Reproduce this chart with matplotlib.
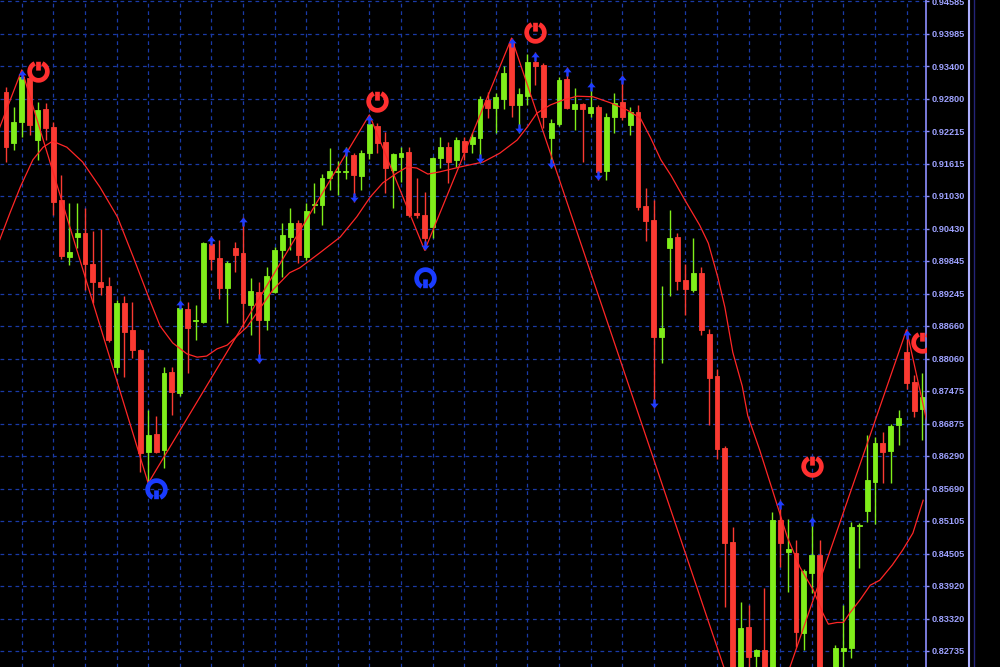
import numpy as np
import matplotlib
matplotlib.use("Agg")
import matplotlib.pyplot as plt
from matplotlib.path import Path
from matplotlib.lines import Line2D

plt.rcParams['font.family'] = ['Liberation Sans', 'DejaVu Sans']

# ---------------------------------
# candle data (one bar per index)
# ---------------------------------
opens = [0.9293, 0.9200, 0.9238, 0.9318, 0.9205, 0.9262, 0.9229, 0.9096, 0.8992, 0.9028,
         0.9035, 0.8979, 0.8946, 0.8939, 0.8791, 0.8908, 0.8859, 0.8822, 0.8636, 0.8669,
         0.8640, 0.8782, 0.8744, 0.8897, 0.8875, 0.8873, 0.9015, 0.8990, 0.8935, 0.9008,
         0.8999, 0.8904, 0.8928, 0.8877, 0.8928, 0.9004, 0.9028, 0.9054, 0.8992, 0.9087,
         0.9087, 0.9136, 0.9147, 0.9147, 0.9178, 0.9140, 0.9181, 0.9231, 0.9202, 0.9150,
         0.9174, 0.9183, 0.9072, 0.9068, 0.9046, 0.9172, 0.9192, 0.9169, 0.9203, 0.9198,
         0.9209, 0.9278, 0.9263, 0.9280, 0.9382, 0.9269, 0.9285, 0.9347, 0.9342, 0.9209,
         0.9234, 0.9316, 0.9262, 0.9271, 0.9254, 0.9265, 0.9149, 0.9247, 0.9275, 0.9233,
         0.9256, 0.9085, 0.9059, 0.8846, 0.9008, 0.9028, 0.8950, 0.8932, 0.8963, 0.8851,
         0.8775, 0.8643, 0.8472, 0.8202, 0.8317, 0.8264, 0.8275, 0.8202, 0.8512, 0.8454,
         0.8452, 0.8306, 0.8415, 0.8448, 0.8229, 0.8202, 0.8273, 0.8278, 0.8501, 0.8528,
         0.8581, 0.8652, 0.8638, 0.8685, 0.8818, 0.8764, 0.8714]
highs = [0.9302, 0.9265, 0.9333, 0.9329, 0.9275, 0.9273, 0.9238, 0.9141, 0.9090, 0.9090,
         0.9081, 0.9039, 0.9043, 0.8955, 0.8913, 0.8921, 0.8910, 0.8824, 0.8713, 0.8702,
         0.8791, 0.8791, 0.8913, 0.8910, 0.8904, 0.9019, 0.9030, 0.9023, 0.8984, 0.9019,
         0.9065, 0.8953, 0.8946, 0.8974, 0.9010, 0.9054, 0.9081, 0.9059, 0.9090, 0.9127,
         0.9143, 0.9191, 0.9167, 0.9192, 0.9181, 0.9187, 0.9251, 0.9236, 0.9220, 0.9181,
         0.9192, 0.9192, 0.9136, 0.9110, 0.9174, 0.9211, 0.9202, 0.9211, 0.9211, 0.9218,
         0.9285, 0.9293, 0.9291, 0.9340, 0.9391, 0.9300, 0.9362, 0.9366, 0.9346, 0.9243,
         0.9320, 0.9338, 0.9300, 0.9273, 0.9311, 0.9269, 0.9254, 0.9291, 0.9324, 0.9265,
         0.9269, 0.9118, 0.9096, 0.8939, 0.9077, 0.9035, 0.8979, 0.9026, 0.8974, 0.8860,
         0.8787, 0.8647, 0.8499, 0.8362, 0.8357, 0.8277, 0.8388, 0.8527, 0.8548, 0.8514,
         0.8475, 0.8423, 0.8517, 0.8475, 0.8238, 0.8284, 0.8357, 0.8508, 0.8506, 0.8667,
         0.8663, 0.8672, 0.8687, 0.8713, 0.8859, 0.8777, 0.8780]
lows = [0.9165, 0.9187, 0.9211, 0.9214, 0.9169, 0.9205, 0.9068, 0.8988, 0.8977, 0.9008,
        0.8932, 0.8908, 0.8922, 0.8837, 0.8780, 0.8773, 0.8807, 0.8600, 0.8579, 0.8634,
        0.8607, 0.8703, 0.8738, 0.8780, 0.8840, 0.8871, 0.8968, 0.8915, 0.8871, 0.8964,
        0.8864, 0.8849, 0.8798, 0.8859, 0.8926, 0.8955, 0.9004, 0.8981, 0.8986, 0.9072,
        0.9050, 0.9114, 0.9105, 0.9134, 0.9092, 0.9114, 0.9170, 0.9181, 0.9108, 0.9081,
        0.9129, 0.9065, 0.9063, 0.9004, 0.9026, 0.9154, 0.9127, 0.9156, 0.9169, 0.9181,
        0.9163, 0.9245, 0.9218, 0.9262, 0.9247, 0.9218, 0.9269, 0.9305, 0.9227, 0.9154,
        0.9231, 0.9262, 0.9223, 0.9165, 0.9247, 0.9132, 0.9132, 0.9218, 0.9242, 0.9214,
        0.9077, 0.9021, 0.8716, 0.8798, 0.8921, 0.8932, 0.8886, 0.8928, 0.8849, 0.8685,
        0.8623, 0.8353, 0.8184, 0.8184, 0.8202, 0.8067, 0.8184, 0.8184, 0.8426, 0.8381,
        0.8280, 0.8275, 0.8379, 0.8184, 0.8184, 0.8184, 0.8202, 0.8260, 0.8424, 0.8508,
        0.8505, 0.8579, 0.8579, 0.8649, 0.8751, 0.8700, 0.8658]
closes = [0.9192, 0.9238, 0.9320, 0.9233, 0.9260, 0.9227, 0.9092, 0.8994, 0.9001, 0.9035,
          0.8979, 0.8946, 0.8937, 0.8840, 0.8908, 0.8855, 0.8822, 0.8634, 0.8667, 0.8636,
          0.8780, 0.8746, 0.8899, 0.8862, 0.8877, 0.9017, 0.8988, 0.8935, 0.8981, 0.8995,
          0.8908, 0.8930, 0.8877, 0.8957, 0.9004, 0.9032, 0.9054, 0.8995, 0.9076, 0.9088,
          0.9136, 0.9149, 0.9149, 0.9149, 0.9141, 0.9181, 0.9234, 0.9200, 0.9154, 0.9180,
          0.9181, 0.9068, 0.9068, 0.9026, 0.9172, 0.9192, 0.9165, 0.9205, 0.9183, 0.9211,
          0.9280, 0.9263, 0.9284, 0.9327, 0.9269, 0.9289, 0.9347, 0.9340, 0.9247, 0.9236,
          0.9315, 0.9263, 0.9271, 0.9262, 0.9265, 0.9147, 0.9247, 0.9273, 0.9247, 0.9256,
          0.9083, 0.9057, 0.8846, 0.8862, 0.9026, 0.8948, 0.8933, 0.8963, 0.8859, 0.8771,
          0.8641, 0.8470, 0.8202, 0.8315, 0.8262, 0.8275, 0.8202, 0.8512, 0.8470, 0.8459,
          0.8308, 0.8419, 0.8448, 0.8202, 0.8202, 0.8278, 0.8278, 0.8499, 0.8503, 0.8585,
          0.8652, 0.8636, 0.8683, 0.8698, 0.8762, 0.8711, 0.8736]

# slow moving average curve
ma_x = [-0.8, 0.5, 1.8, 3.4, 4.7, 5.9, 7.7, 9.7, 11.9, 14.1, 16.1, 18.2, 19.5, 21.1, 22.9,
        24.2, 25.4, 26.7, 28.0, 29.2, 30.5, 32.2, 33.8, 35.9, 37.2, 39.7, 42.3, 44.4, 46.1,
        47.7, 49.5, 50.8, 52.0, 53.4, 54.9, 57.5, 60.4, 62.5, 64.7, 66.0, 67.2, 68.9, 70.5,
        72.3, 74.3, 76.5, 78.6, 80.3, 81.6, 82.9, 84.2, 85.8, 87.8, 88.9, 90.1, 91.0, 92.0,
        93.2, 93.9, 95.4, 98.9, 100.5, 102.2, 103.4, 104.1, 105.2, 106.0, 106.8, 108.1,
        109.4, 110.6, 112.2, 113.5, 114.8, 116.1]
ma_y = [0.9023, 0.9072, 0.9119, 0.9169, 0.9192, 0.9203, 0.9192, 0.9165, 0.9119, 0.9065,
        0.8992, 0.8913, 0.8866, 0.8835, 0.8815, 0.8809, 0.8811, 0.8824, 0.8831, 0.8847,
        0.8864, 0.8899, 0.8932, 0.8963, 0.8972, 0.8999, 0.9028, 0.9065, 0.9101, 0.9127,
        0.9145, 0.9156, 0.9154, 0.9143, 0.9147, 0.9156, 0.9165, 0.9181, 0.9205, 0.9229,
        0.9254, 0.9269, 0.9278, 0.9285, 0.9284, 0.9273, 0.9260, 0.9245, 0.9209, 0.9169,
        0.9140, 0.9099, 0.9050, 0.9017, 0.8955, 0.8900, 0.8818, 0.8756, 0.8702, 0.8640,
        0.8481, 0.8426, 0.8384, 0.8342, 0.8322, 0.8325, 0.8325, 0.8342, 0.8366, 0.8393,
        0.8402, 0.8430, 0.8457, 0.8488, 0.8548]

# zigzag swing points
zz_x = [-2, 2, 18, 46, 53, 64, 95, 114, 118]
zz_y = [0.9183, 0.9333, 0.8579, 0.9251, 0.9004, 0.9391, 0.8067, 0.8859, 0.8598]

# fractal arrows
frac_up_idx = [2, 22, 26, 30, 43, 46, 64, 67, 71, 74, 78, 98, 102, 114]
frac_dn_idx = [32, 44, 53, 60, 65, 69, 75, 82]

# signal symbols
sell_sig_x = [4, 47, 67, 102, 116]
sell_sig_y = [0.9331, 0.9276, 0.9402, 0.8610, 0.8837]
buy_sig_x = [19, 53]
buy_sig_y = [0.8568, 0.8953]

price_ticks = [0.94585, 0.93985, 0.93400, 0.92800, 0.92215, 0.91615, 0.91030, 0.90430,
               0.89845, 0.89245, 0.88660, 0.88060, 0.87475, 0.86875, 0.86290, 0.85690,
               0.85105, 0.84505, 0.83920, 0.83320, 0.82735]
tick_labels = ["0.94585", "0.93985", "0.93400", "0.92800", "0.92215", "0.91615", "0.91030",
               "0.90430", "0.89845", "0.89245", "0.88660", "0.88060", "0.87475", "0.86875",
               "0.86290", "0.85690", "0.85105", "0.84505", "0.83920", "0.83320", "0.82735"]

# colours
bull_c = '#80ee1a'
bear_c = '#fa3a32'
line_c = '#ff2626'
grid_c = '#1a3aa6'
axis_c = '#8e90ff'
arrow_c = '#1e3cff'

o = np.array(opens)
h = np.array(highs)
l = np.array(lows)
c = np.array(closes)
x = np.arange(len(o))

fig = plt.figure(figsize=(10, 6.67), dpi=100, facecolor='black')
ax = fig.add_axes([0, 0, 0.926, 1])
ax.set_facecolor('black')

# grid
for v in price_ticks:
    ax.axhline(v, color=grid_c, lw=0.9, ls=(0, (3, 3)), zorder=0)
for xg in np.arange(2, 117, 4):
    ax.axvline(xg, color=grid_c, lw=0.9, ls=(0, (3, 3)), zorder=0)

# candles
cols = np.where(c >= o, bull_c, bear_c)
ax.vlines(x, l, h, colors=cols, lw=1.0, zorder=2)
ax.bar(x, np.abs(c - o), bottom=np.minimum(o, c), width=0.62, color=cols,
       edgecolor=cols, linewidth=0.6, zorder=2)

# MA + zigzag
ax.plot(ma_x, ma_y, color=line_c, lw=0.9, zorder=3)
ax.plot(zz_x, zz_y, color=line_c, lw=0.9, zorder=3)

# arrows
up_arrow = Path([(0, 0), (-0.6, -0.7), (-0.17, -0.7), (-0.17, -1.3),
                 (0.17, -1.3), (0.17, -0.7), (0.6, -0.7), (0, 0)], closed=True)
dn_arrow = Path([(0, 0), (-0.6, 0.7), (-0.17, 0.7), (-0.17, 1.3),
                 (0.17, 1.3), (0.17, 0.7), (0.6, 0.7), (0, 0)], closed=True)
ax.plot(frac_up_idx, h[frac_up_idx], ls='none', marker=up_arrow, ms=13,
        color=arrow_c, mew=0, zorder=4)
ax.plot(frac_dn_idx, l[frac_dn_idx], ls='none', marker=dn_arrow, ms=13,
        color=arrow_c, mew=0, zorder=4)

# signal symbols (ring + bar)
sell_mark = Path.make_compound_path(Path.arc(115, 425),
                                    Path([(0, 1.1), (0, 0.1)], [Path.MOVETO, Path.LINETO]))
buy_mark = Path.make_compound_path(Path.arc(-65, 245),
                                   Path([(0, -1.1), (0, -0.1)], [Path.MOVETO, Path.LINETO]))
ax.plot(sell_sig_x, sell_sig_y, ls='none', marker=sell_mark, ms=14, mfc='none',
        mec='#ff3030', mew=3.4, zorder=5)
ax.plot(buy_sig_x, buy_sig_y, ls='none', marker=buy_mark, ms=14, mfc='none',
        mec='#1a3cff', mew=3.4, zorder=5)

ax.set_xlim(-0.76, 116.46)
ax.set_ylim(0.82438, 0.94605)

# right price axis
ax.set_xticks([])
ax.yaxis.tick_right()
ax.set_yticks(price_ticks)
ax.set_yticklabels(tick_labels)
ax.tick_params(axis='y', direction='out', length=2.5, width=1, color=axis_c, pad=1.2,
               labelsize=6.6, labelcolor='#9ea2ff')
for t in ax.get_yticklabels():
    t.set_fontweight('bold')
for s in ['left', 'top', 'bottom']:
    ax.spines[s].set_visible(False)
ax.spines['right'].set_color(axis_c)
ax.spines['right'].set_linewidth(1.2)

fig.add_artist(Line2D([0.969, 0.969], [0, 1], transform=fig.transFigure,
                      color='#aeb0ff', lw=1.5))
fig.add_artist(Line2D([0.9735, 0.9735], [0, 1], transform=fig.transFigure,
                      color='#24247a', lw=1.0))

fig.savefig('out.png', dpi=100, facecolor='black')
